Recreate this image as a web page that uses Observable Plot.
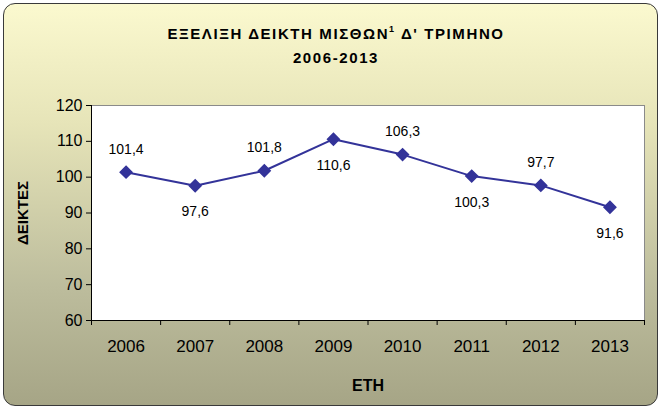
<!DOCTYPE html>
<html>
<head>
<meta charset="utf-8">
<script src="https://cdn.jsdelivr.net/npm/d3@7"></script>
<script src="https://cdn.jsdelivr.net/npm/@observablehq/plot@0.6"></script>
<style>
  html, body { margin: 0; padding: 0; background: #ffffff; }
  #wrap { position: relative; width: 664px; height: 411px; overflow: hidden; font-family: "Liberation Sans", Arial, sans-serif; }
  #bg { position: absolute; left: 3px; top: 3px; width: 653px; height: 401px; border: 1.5px solid #3a3a3a; border-radius: 12px;
        background: linear-gradient(to bottom, #fbf9cf 0%, #e6e4b8 30%, #bdbd9d 70%, #a6a586 100%); }
  #title { position: absolute; left: 0; width: 672px; top: 18px; text-align: center; font-weight: bold; font-size: 15px; line-height: 24px; letter-spacing: 1.6px; color: #000; }
  #title sup { font-size: 9px; position: relative; top: -1px; }
  #chart { position: absolute; left: 0; top: 0; }
</style>
</head>
<body>
<div id="wrap">
  <div id="bg"></div>
  <div id="title"></div>
  <div id="chart"></div>
</div>
<script>
const titleLine1 = "ΕΞΕΛΙΞΗ ΔΕΙΚΤΗ ΜΙΣΘΩΝ";
const titleSup = "1";
const titleLine1b = " Δ' ΤΡΙΜΗΝΟ";
const titleLine2 = "2006-2013";
const xLabel = "ΕΤΗ";
const yLabel = "ΔΕΙΚΤΕΣ";

const years = [2006, 2007, 2008, 2009, 2010, 2011, 2012, 2013];
const values = [101.4, 97.6, 101.8, 110.6, 106.3, 100.3, 97.7, 91.6];
const yTicks = [60, 70, 80, 90, 100, 110, 120];

document.getElementById("title").innerHTML =
  titleLine1 + "<sup>" + titleSup + "</sup>" + titleLine1b + "<br>" + titleLine2;

const data = years.map((year, i) => ({year, value: values[i], i}));
const fmt = v => v.toFixed(1).replace(".", ",");
const boundaries = d3.range(years[0] - 0.5, years[years.length - 1] + 1, 1);

const color = "#333399";

const chart = Plot.plot({
  width: 664,
  height: 411,
  marginLeft: 91,
  marginRight: 20,
  marginTop: 105,
  marginBottom: 91,
  style: { background: "transparent", fontFamily: "'Liberation Sans', Arial, sans-serif", color: "#000", overflow: "visible" },
  x: { type: "linear", domain: [years[0] - 0.5, years[years.length - 1] + 0.5] },
  y: { domain: [60, 120] },
  marks: [
    Plot.frame({ fill: "white", stroke: "#8a8a8a" }),
    Plot.axisY({ ticks: yTicks, tickSize: 5, tickPadding: 4, fontSize: 16, label: null, stroke: "#000" }),
    Plot.ruleX([years[0] - 0.5], { stroke: "#000" }),
    Plot.ruleY([60], { stroke: "#000" }),
    Plot.axisX({ ticks: boundaries, tickSize: 5, tickFormat: () => "", label: null, stroke: "#000" }),
    Plot.axisX({ ticks: years, tickSize: 0, tickPadding: 19, tickFormat: d => String(d), fontSize: 17, label: null }),
    Plot.text([xLabel], { frameAnchor: "bottom", dy: 65, text: d => d, fontSize: 16, fontWeight: "bold", lineAnchor: "middle", textAnchor: "middle", letterSpacing: "1.5px" }),
    Plot.text([yLabel], { frameAnchor: "left", dx: -68, rotate: -90, text: d => d, fontSize: 15, fontWeight: "bold", lineAnchor: "middle", textAnchor: "middle", letterSpacing: "2.5px" }),
    Plot.line(data, { x: "year", y: "value", stroke: color, strokeWidth: 2 }),
    Plot.dot(data, { x: "year", y: "value", symbol: "diamond2", r: 5.3, fill: color, stroke: color }),
    Plot.text(data.filter(d => d.i % 2 === 0), { x: "year", y: "value", text: d => fmt(d.value), dy: -23, fontSize: 14, lineAnchor: "middle" }),
    Plot.text(data.filter(d => d.i % 2 === 1), { x: "year", y: "value", text: d => fmt(d.value), dy: 26, fontSize: 14, lineAnchor: "middle" })
  ]
});
document.getElementById("chart").appendChild(chart);
</script>
</body>
</html>
